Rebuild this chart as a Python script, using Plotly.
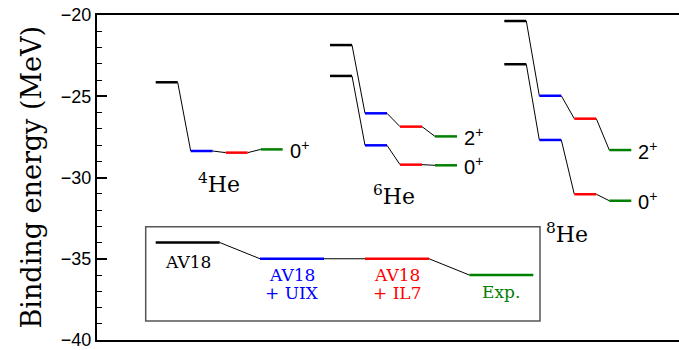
import plotly.graph_objects as go

# ---------------- data (MeV) ----------------
models = ["AV18", "AV18+UIX", "AV18+IL7", "Exp."]
colors = ["#000000", "#0000ff", "#ff0000", "#008000"]

he4_0 = [-24.14, -28.37, -28.47, -28.27]
he6_0 = [-23.75, -28.02, -29.21, -29.25]
he6_2 = [-21.85, -26.05, -26.87, -27.47]
he8_0 = [-23.03, -27.69, -31.03, -31.43]
he8_2 = [-20.37, -24.97, -26.38, -28.31]

legend_levels = [-34.0, -35.0, -35.0, -36.0]

y_ticks = [-40, -35, -30, -25, -20]

# ---------------- layout constants ----------------
X_MIN, X_MAX = 97, 679
group_x0 = {"4He": 155.7, "6He": 330.0, "8He": 504.3}
step = 35.0
width = 22.0

states = [
    ("4He", he4_0, "0<sup>+</sup>"),
    ("6He", he6_0, "0<sup>+</sup>"),
    ("6He", he6_2, "2<sup>+</sup>"),
    ("8He", he8_0, "0<sup>+</sup>"),
    ("8He", he8_2, "2<sup>+</sup>"),
]

fig = go.Figure()

# connectors (thin black)
cx, cy = [], []
for g, vals, _ in states:
    x0 = group_x0[g]
    for i in range(3):
        cx += [x0 + i * step + width, x0 + (i + 1) * step, None]
        cy += [vals[i], vals[i + 1], None]
# legend connectors
leg_x = [155.7, 260.0, 365.0, 469.3]
leg_w = 64.0
for i in range(3):
    cx += [leg_x[i] + leg_w, leg_x[i + 1], None]
    cy += [legend_levels[i], legend_levels[i + 1], None]
fig.add_trace(go.Scatter(x=cx, y=cy, mode="lines",
                         line=dict(color="black", width=1), hoverinfo="skip"))

# levels
for m in range(4):
    lx, ly = [], []
    for g, vals, _ in states:
        x0 = group_x0[g] + m * step
        lx += [x0, x0 + width, None]
        ly += [vals[m], vals[m], None]
    lx += [leg_x[m], leg_x[m] + leg_w, None]
    ly += [legend_levels[m], legend_levels[m], None]
    fig.add_trace(go.Scatter(x=lx, y=ly, mode="lines",
                             line=dict(color=colors[m], width=2.5),
                             hoverinfo="skip"))

annotations = []
# state labels
for g, vals, lab in states:
    annotations.append(dict(x=group_x0[g] + 3 * step + width + 5, y=vals[3],
                            text=lab, showarrow=False, xanchor="left",
                            yanchor="middle",
                            font=dict(family="Liberation Sans", size=20, color="black")))
# nucleus labels
for txt, x, y in [("<sup>4</sup>He", 196, -30.34),
                  ("<sup>6</sup>He", 371, -31.1),
                  ("<sup>8</sup>He", 544, -33.4)]:
    annotations.append(dict(x=x, y=y, text=txt, showarrow=False, xanchor="left",
                            yanchor="middle",
                            font=dict(family="DejaVu Serif", size=22, color="black")))

# legend texts
lf = "DejaVu Serif"
for txt, x, y, c in [("AV18", 187.7, -35.2, colors[0]),
                     ("AV18", 291.7, -36.0, colors[1]),
                     ("+ UIX", 291.7, -37.1, colors[1]),
                     ("AV18", 396.5, -36.0, colors[2]),
                     ("+ IL7", 396.5, -37.1, colors[2]),
                     ("Exp.", 501.0, -37.05, colors[3])]:
    annotations.append(dict(x=x, y=y, text=txt, showarrow=False, xanchor="center",
                            yanchor="middle", borderpad=0,
                            font=dict(family=lf, size=17, color=c)))

# y-axis title
annotations.append(dict(x=(31 - X_MIN) / (X_MAX - X_MIN), xref="paper",
                        y=0.5, yref="paper",
                        text="Binding energy (MeV)", textangle=-90,
                        showarrow=False, xanchor="center", yanchor="middle",
                        font=dict(family="DejaVu Serif", size=27, color="black")))

fig.update_layout(
    width=679, height=350,
    margin=dict(l=97, r=0, t=15, b=10),
    plot_bgcolor="white", paper_bgcolor="white",
    showlegend=False,
    annotations=annotations,
    shapes=[dict(type="rect", xref="x", yref="y", x0=145.7, x1=540.0,
                 y0=-38.83, y1=-33.03, line=dict(color="#555555", width=1.5))],
    xaxis=dict(range=[X_MIN, X_MAX], showline=True, linecolor="black", linewidth=2,
               mirror=True, showticklabels=False, ticks="", showgrid=False,
               zeroline=False, fixedrange=True),
    yaxis=dict(range=[-40, -20], showline=True, linecolor="black", linewidth=2,
               tickmode="array", tickvals=y_ticks,
               ticktext=[f"\u2212{abs(v)}" for v in y_ticks],
               ticks="inside", ticklen=10, tickwidth=1.5,
               tickcolor="black", ticklabeloverflow="allow",
               minor=dict(dtick=1, ticks="inside", ticklen=5, tickwidth=1.2,
                          tickcolor="black", showgrid=False),
               tickfont=dict(family="Liberation Sans", size=18, color="black"),
               showgrid=False, zeroline=False, fixedrange=True),
)

fig.write_html("out.html")
